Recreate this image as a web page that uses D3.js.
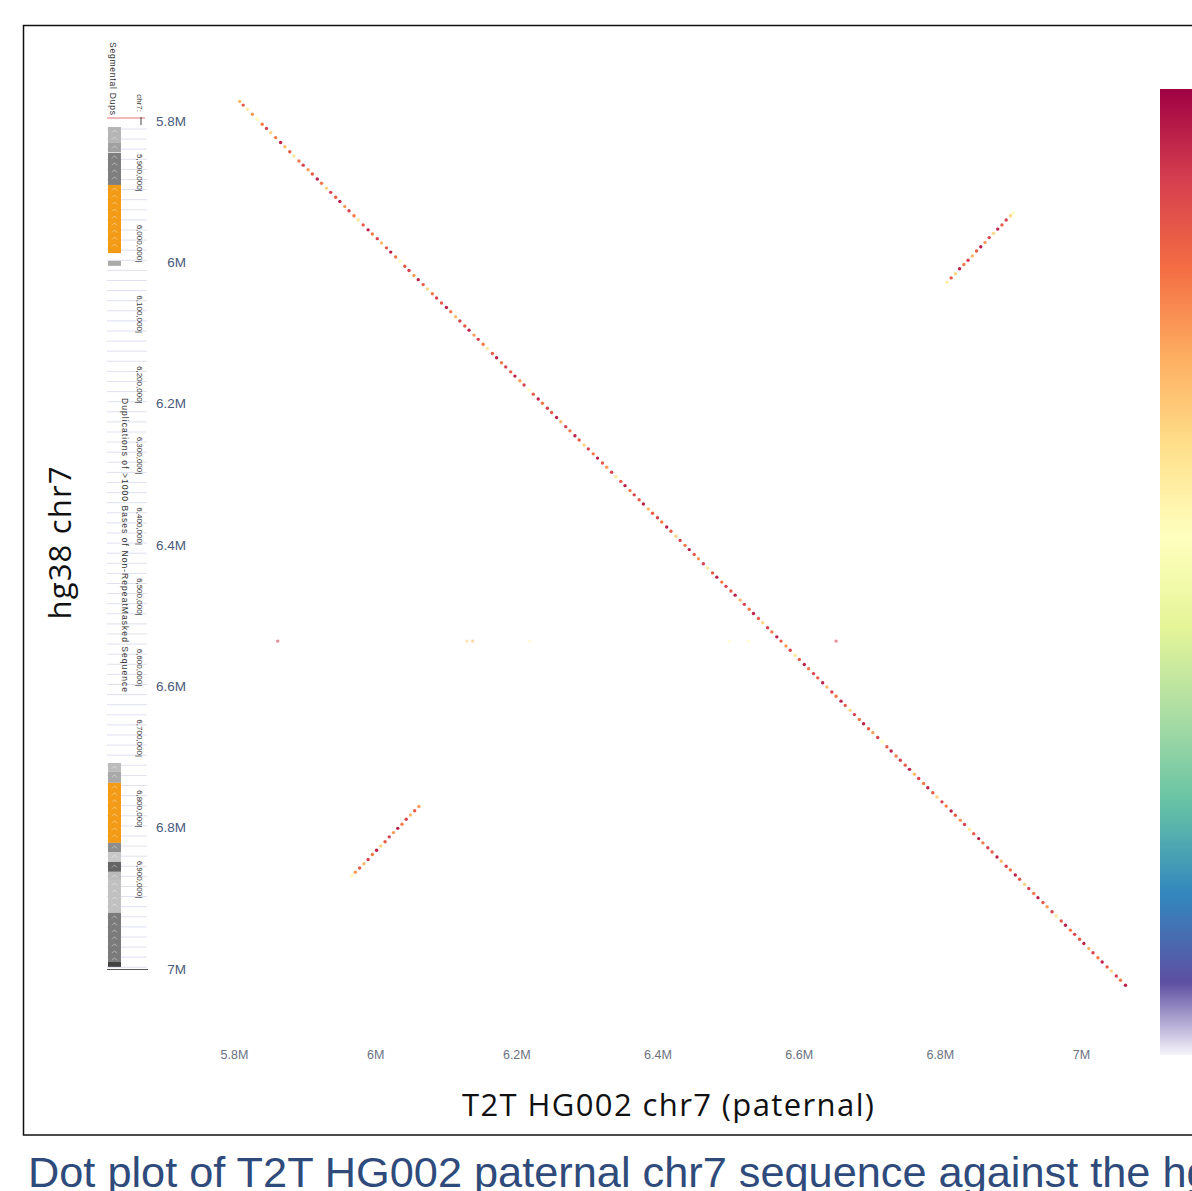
<!DOCTYPE html>
<html>
<head>
<meta charset="utf-8">
<script src="https://cdn.jsdelivr.net/npm/d3@7"></script>
<style>
  html, body { margin: 0; padding: 0; background: #fff; }
  svg { display: block; }
</style>
</head>
<body>
<div id="dotplot"></div>
<script>
// all positions in kb
const xTicks = [5800, 6000, 6200, 6400, 6600, 6800, 7000];
const yTicks = [5800, 6000, 6200, 6400, 6600, 6800, 7000];
const rulerTicks = [5900, 6000, 6100, 6200, 6300, 6400, 6500, 6600, 6700, 6800, 6900];

// [T2T position, hg38 position, identity %]
const mainDots = [
  [5808,5772.5,94],[5813,5777.5,97],[5819,5783.5,92],[5826,5790.5,95],[5833,5797.5,91],[5840,5804.5,96],
  [5846,5810.5,98],[5852,5816.5,93],[5859,5823.5,96],[5866,5830.5,99],[5872,5836.5,94],[5879,5843.5,97],
  [5885,5849.5,92],[5892,5856.5,96],[5898,5862.5,98],[5905,5869,95],[5911,5875,97],[5918,5882,99],
  [5924,5888,96],[5931,5895,93],[5937,5901,98],[5944,5908,97],[5950,5914,99],[5957,5921,95],
  [5963,5927,98],[5970,5934,96],[5976,5940,92],[5983,5947,97],[5990,5954,99],[5996,5960,96],
  [6003,5966.5,98],[6009,5972.5,94],[6016,5979.5,97],[6022,5985.5,99],[6029,5992.5,96],[6035,5998.5,91],
  [6042,6005.5,97],[6048,6011.5,98],[6055,6018.5,95],[6061,6024.5,99],[6068,6031.5,97],[6074,6037.5,93],
  [6081,6044.5,96],[6087,6050.5,98],[6094,6057.5,97],[6101,6064,99],[6107,6070,96],[6114,6077,94],
  [6120,6083,98],[6127,6090,97],[6133,6096,99],[6140,6103,95],[6146,6109,98],[6153,6116,96],
  [6159,6122,92],[6166,6129,97],[6172,6135,99],[6179,6142,96],[6185,6148,98],[6192,6155,97],
  [6198,6161,99],[6205,6167.5,95],[6211,6173.5,98],[6218,6180.5,91],[6224,6186.5,97],[6231,6193.5,99],
  [6237,6199.5,96],[6244,6206.5,98],[6250,6212.5,97],[6257,6219.5,99],[6263,6225.5,94],[6270,6232.5,98],
  [6276,6238.5,96],[6283,6245.5,99],[6289,6251.5,97],[6296,6258.5,93],[6302,6264,98],[6309,6271,96],
  [6315,6277,99],[6322,6284,97],[6328,6290,95],[6335,6297,98],[6341,6303,92],[6348,6310,97],
  [6354,6316,99],[6361,6323,96],[6367,6329,98],[6374,6336,97],[6380,6342,99],[6387,6349,94],
  [6393,6355,97],[6400,6361.5,98],[6406,6367.5,96],[6413,6374.5,99],[6419,6380.5,97],[6426,6387.5,93],
  [6432,6393.5,98],[6439,6400.5,96],[6445,6406.5,99],[6452,6413.5,97],[6458,6419.5,95],[6465,6426.5,98],
  [6471,6432.5,92],[6478,6439.5,97],[6484,6445.5,99],[6491,6452.5,96],[6497,6458.5,98],[6504,6465,97],
  [6510,6471,99],[6517,6478,94],[6523,6484,98],[6530,6491,96],[6536,6497,99],[6543,6504,97],
  [6549,6510,93],[6556,6517,98],[6562,6523,96],[6569,6530,99],[6575,6536,97],[6582,6543,95],
  [6588,6549,98],[6595,6556,92],[6601,6562,97],[6608,6569,99],[6614,6575,96],[6621,6582,98],
  [6627,6588,97],[6634,6595,99],[6640,6601,94],[6647,6608,98],[6653,6614,96],[6660,6621,99],
  [6666,6627,97],[6673,6634,93],[6679,6640,98],[6686,6647,96],[6692,6653,99],[6699,6660,97],
  [6705,6665.5,95],[6712,6672.5,98],[6718,6678.5,91],[6725,6685.5,97],[6731,6691.5,99],[6738,6698.5,96],
  [6744,6704.5,98],[6751,6711.5,97],[6757,6717.5,99],[6764,6724.5,94],[6770,6730.5,98],[6777,6737.5,96],
  [6783,6743.5,99],[6790,6750.5,97],[6796,6756.5,93],[6803,6763.5,98],[6809,6769.5,96],[6816,6776.5,99],
  [6822,6782.5,97],[6829,6789.5,95],[6835,6795.5,98],[6842,6802.5,92],[6848,6808.5,97],[6855,6815.5,99],
  [6861,6821.5,96],[6868,6828.5,98],[6874,6834.5,97],[6881,6841.5,99],[6887,6847.5,94],[6894,6854.5,98],
  [6900,6860,96],[6907,6867,99],[6913,6873,97],[6920,6880,93],[6926,6886,98],[6933,6893,96],
  [6939,6899,99],[6946,6906,97],[6952,6912,95],[6959,6919,98],[6965,6925,92],[6972,6932,97],
  [6978,6938,99],[6985,6945,96],[6991,6951,98],[6998,6958,97],[7004,6964,99],[7011,6971,94],
  [7017,6977,98],[7024,6984,96],[7030,6990,99],[7037,6997,97],[7043,7003,93],[7050,7010,98],
  [7056,7016,96],[7063,7023,99]
];

const upperInvDots = [
  [6810,6028,92],[6816,6022,97],[6822,6016,93],[6828,6009,99],[6834,6003,96],[6840,5997,98],
  [6846,5991,94],[6852,5984,97],[6858,5978,99],[6864,5972,95],[6870,5965,98],[6876,5959,93],
  [6882,5953,99],[6888,5947,97],[6894,5940,98],[6900,5934,93],[6904,5930,91]
];

const lowerInvDots = [
  [5967,6868,91],[5972,6863,95],[5978,6857,97],[5984,6851,94],[5990,6845,98],[5996,6838,96],
  [6002,6832,99],[6008,6826,93],[6014,6820,97],[6020,6813,98],[6026,6807,95],[6032,6801,99],
  [6038,6795,96],[6044,6788,98],[6050,6782,94],[6056,6776,97],[6062,6770,95]
];

const stripDots = [
  [5862,6536,98],[6130,6536,93],[6138,6536,94],[6219,6536,91],[6502,6536,91],[6529,6536,91],[6653,6536,98]
];

// segmental duplications on hg38: [start, end, similarity %]
const segDups = [
  [5808.5,5831,91.3],[5831,5844,92.6],[5845,5890.5,95],[5890.5,5987,99.5],[5998,6005,92],
  [6708.5,6721,90.8],[6721,6736.5,92.1],[6736.5,6821.5,99.5],[6821.5,6834.5,94],[6834.5,6848.5,90],
  [6848.5,6862.5,96.7],[6862.5,6874,90.9],[6874,6920.5,90.5],[6920.5,6990,95.2],[6990,6997,98.9]
];

// identity colour bar
const identityStops = [100, 98.15, 96.3, 94.45, 92.6, 90.75, 88.9, 87.05, 85.2, 83.35, 81.5, 80];
const identityColors = ["#9e0142","#d53e4f","#f46d43","#fdae61","#fee08b","#ffffbf",
                        "#e6f598","#abdda4","#66c2a5","#3288bd","#5e4fa2","#f6f4fb"];

function init() {
  const w = 1192, h = 1191;

  const x = d3.scaleLinear().domain([5800, 7000]).range([234, 1081]);
  const y = d3.scaleLinear().domain([5800, 7000]).range([121, 969]);
  const color = d3.scaleLinear().domain(identityStops).range(identityColors).clamp(true);
  const dupGray = d3.scaleLinear().domain([90, 98.9]).range(["#c8c8c8", "#444444"]).clamp(true);
  const dupColor = s => s >= 99 ? "#f39a16" : dupGray(s);

  const svg = d3.select("#dotplot")
    .append("svg")
    .attr("width", w)
    .attr("height", h)
    .attr("viewBox", [0, 0, w, h]);

  // outer frame
  svg.append("rect")
    .attr("x", 23.5).attr("y", 25.5)
    .attr("width", 1200).attr("height", 1109.5)
    .attr("fill", "none")
    .attr("stroke", "#111")
    .attr("stroke-width", 1.5);

  // ---- genome browser track on the left ----
  const track = svg.append("g");

  track.append("g")
    .attr("stroke", "#dfe1f1")
    .selectAll("line")
    .data(d3.range(129, 968, 10.1))
    .join("line")
    .attr("x1", 107).attr("x2", 147)
    .attr("y1", d => d).attr("y2", d => d);

  track.append("g")
    .selectAll("rect")
    .data(segDups)
    .join("rect")
    .attr("x", 108)
    .attr("width", 13)
    .attr("y", d => y(d[0]))
    .attr("height", d => y(d[1]) - y(d[0]))
    .attr("fill", d => dupColor(d[2]));

  // strand chevrons inside the dup blocks
  const chevrons = [];
  segDups.forEach(d => {
    for (let p = y(d[0]) + 4; p < y(d[1]) - 2; p += 7) chevrons.push(p);
  });
  track.append("g")
    .attr("fill", "none")
    .attr("stroke", "#fff")
    .attr("stroke-opacity", 0.55)
    .attr("stroke-width", 0.8)
    .selectAll("path")
    .data(chevrons)
    .join("path")
    .attr("d", d => `M112,${d + 1.5}L114.5,${d - 1}L117,${d + 1.5}`);

  track.append("line")
    .attr("x1", 107).attr("x2", 145)
    .attr("y1", 118).attr("y2", 118)
    .attr("stroke", "#e57373");

  track.append("line")
    .attr("x1", 107).attr("x2", 148)
    .attr("y1", y(7000) + 0.5).attr("y2", y(7000) + 0.5)
    .attr("stroke", "#555");

  track.append("line")
    .attr("x1", 141).attr("x2", 141)
    .attr("y1", 117).attr("y2", 125)
    .attr("stroke", "#444");

  track.append("text")
    .attr("transform", "translate(110,42) rotate(90)")
    .attr("font-family", "Liberation Sans, Arial, sans-serif")
    .attr("font-size", 8.5)
    .attr("fill", "#333")
    .attr("textLength", 73)
    .text("Segmental Dups");

  track.append("text")
    .attr("transform", "translate(137,112) rotate(90)")
    .attr("text-anchor", "end")
    .attr("font-family", "Liberation Sans, Arial, sans-serif")
    .attr("font-size", 8)
    .attr("fill", "#333")
    .text("chr7:");

  track.append("g")
    .selectAll("text")
    .data(rulerTicks)
    .join("text")
    .attr("transform", d => `translate(137,${y(d)}) rotate(90)`)
    .attr("text-anchor", "end")
    .attr("font-family", "Liberation Sans, Arial, sans-serif")
    .attr("font-size", 8)
    .attr("fill", "#333")
    .text(d => d3.format(",")(d * 1000) + "|");

  track.append("text")
    .attr("transform", "translate(122,398) rotate(90)")
    .attr("font-family", "Liberation Sans, Arial, sans-serif")
    .attr("font-size", 8.5)
    .attr("fill", "#333")
    .attr("textLength", 294)
    .text("Duplications of >1000 Bases of Non-RepeatMasked Sequence");

  // ---- axes ----
  const fmt = d => (d / 1000) + "M";

  svg.append("g")
    .attr("transform", "translate(190,0)")
    .call(d3.axisLeft(y).tickValues(yTicks).tickSize(0).tickPadding(4).tickFormat(fmt))
    .call(g => g.select(".domain").remove())
    .call(g => g.selectAll("text")
      .attr("font-family", "Liberation Sans, Arial, sans-serif")
      .attr("font-size", 13.5)
      .attr("fill", "#4a5a7c"));

  svg.append("g")
    .attr("transform", "translate(0,1047)")
    .call(d3.axisBottom(x).tickValues(xTicks).tickSize(0).tickPadding(3).tickFormat(fmt))
    .call(g => g.select(".domain").remove())
    .call(g => g.selectAll("text")
      .attr("font-family", "Liberation Sans, Arial, sans-serif")
      .attr("font-size", 12.5)
      .attr("fill", "#6b717f"));

  svg.append("text")
    .attr("x", 668).attr("y", 1116)
    .attr("text-anchor", "middle")
    .attr("font-family", "Open Sans, sans-serif")
    .attr("font-size", 31)
    .attr("fill", "#111")
    .attr("textLength", 412)
    .text("T2T HG002 chr7 (paternal)");

  svg.append("text")
    .attr("transform", "translate(71,543) rotate(-90)")
    .attr("text-anchor", "middle")
    .attr("font-family", "Open Sans, sans-serif")
    .attr("font-size", 31)
    .attr("fill", "#111")
    .attr("textLength", 153)
    .text("hg38 chr7");

  // ---- dots ----
  const dots = svg.append("g");
  [mainDots, upperInvDots, lowerInvDots].forEach(series => {
    dots.append("g")
      .selectAll("circle")
      .data(series)
      .join("circle")
      .attr("cx", d => x(d[0]))
      .attr("cy", d => y(d[1]))
      .attr("r", 1.7)
      .attr("fill", d => color(d[2]));
  });

  dots.append("g")
    .attr("fill-opacity", 0.6)
    .selectAll("circle")
    .data(stripDots)
    .join("circle")
    .attr("cx", d => x(d[0]))
    .attr("cy", d => y(d[1]))
    .attr("r", 1.7)
    .attr("fill", d => color(d[2]));

  // ---- colour bar ----
  const grad = svg.append("defs")
    .append("linearGradient")
    .attr("id", "identityGrad")
    .attr("x1", 0).attr("x2", 0).attr("y1", 0).attr("y2", 1);

  grad.selectAll("stop")
    .data(identityStops)
    .join("stop")
    .attr("offset", d => (100 - d) / 20)
    .attr("stop-color", d => color(d));

  svg.append("rect")
    .attr("x", 1160).attr("y", 89)
    .attr("width", 40).attr("height", 966)
    .attr("fill", "url(#identityGrad)");

  // caption (cut at the right edge, as in the source)
  svg.append("text")
    .attr("x", 28).attr("y", 1187)
    .attr("font-family", "Liberation Sans, Arial, sans-serif")
    .attr("font-size", 43.3)
    .attr("fill", "#2f4b7c")
    .text("Dot plot of T2T HG002 paternal chr7 sequence against the hg");
}

window.onload = init;
</script>
</body>
</html>
